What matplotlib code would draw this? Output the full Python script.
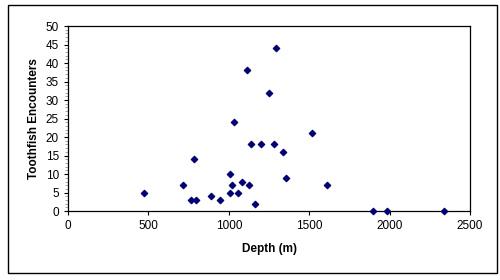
import matplotlib
matplotlib.use('Agg')
import matplotlib.pyplot as plt
from matplotlib.patches import Rectangle
from matplotlib.ticker import MultipleLocator

depth = [473, 718, 768, 793, 782, 888, 946, 1006, 1006, 1023, 1033, 1058, 1085, 1114,
         1123, 1141, 1160, 1203, 1253, 1284, 1293, 1336, 1353, 1517, 1612, 1897, 1984, 2336]
encounters = [5, 7, 3, 3, 14, 4, 3, 10, 5, 7, 24, 5, 8, 38,
              7, 18, 2, 18, 32, 18, 44, 16, 9, 21, 7, 0, 0, 0]

plt.rcParams['font.family'] = ['Liberation Sans', 'DejaVu Sans']

fig = plt.figure(figsize=(5, 2.8), dpi=100)
fig.patches.append(Rectangle((8 / 500, 1 - 273 / 280), 489 / 500, 268 / 280,
                             transform=fig.transFigure, fill=False,
                             edgecolor='black', linewidth=1))
ax = fig.add_axes([0.136, 0.246, 0.804, 0.661])
ax.scatter(depth, encounters, marker='D', s=10, color='#000080', zorder=3, clip_on=False)
ax.set_xlim(0, 2500)
ax.set_ylim(0, 50)
ax.xaxis.set_major_locator(MultipleLocator(500))
ax.yaxis.set_major_locator(MultipleLocator(5))
ax.yaxis.set_minor_locator(MultipleLocator(1))
ax.tick_params(axis='both', labelsize=8.5, direction='out', length=3, width=0.8)
ax.tick_params(axis='y', which='minor', length=2, color='#999999')
ax.set_xlabel('Depth (m)', fontsize=8.5, fontweight='bold', labelpad=8)
ax.set_ylabel('Toothfish Encounters', fontsize=8.5, fontweight='bold', labelpad=4)
for s in ax.spines.values():
    s.set_linewidth(0.9)

fig.savefig('out.png', dpi=100)
